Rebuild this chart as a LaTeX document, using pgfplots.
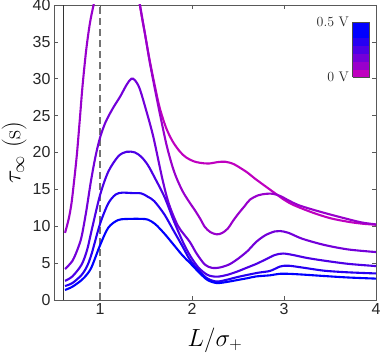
\documentclass[border=0pt]{standalone}
\usepackage{fontspec}
\newfontfamily\arialfont{Liberation Sans}
\usepackage{pgfplots}
\pgfplotsset{compat=1.18}
\definecolor{c0}{RGB}{191,0,191}
\definecolor{c1}{RGB}{153,0,204}
\definecolor{c2}{RGB}{115,0,217}
\definecolor{c3}{RGB}{77,0,230}
\definecolor{c4}{RGB}{38,0,242}
\definecolor{c5}{RGB}{0,0,255}
\begin{document}
\begin{tikzpicture}
\begin{axis}[name=ax, width=322bp, height=295bp, scale only axis,
  xmin=0.5, xmax=4, ymin=0, ymax=40,
  xtick={1,2,3,4}, ytick={0,5,...,40},
  tick align=inside, major tick length=4bp,
  axis line style={black!65, line width=0.6bp},
  tick style={black!65, line width=0.6bp},
  ticklabel style={font=\fontsize{16}{18}\selectfont\arialfont, text=black!85},
  /pgf/number format/assume math mode=true,
  xlabel={$L/\sigma_+$}, ylabel={$\tau_\infty$ (s)},
  xlabel style={font=\fontsize{25}{28}\selectfont, at={(axis description cs:0.5,-0.1356)}, anchor=center},
  ylabel style={font=\fontsize{25}{28}\selectfont, at={(axis description cs:-0.124,0.5)}, anchor=center},
  colormap={vc}{rgb255=(191,0,191) rgb255=(153,0,204) rgb255=(115,0,217) rgb255=(77,0,230) rgb255=(38,0,242) rgb255=(0,0,255) rgb255=(0,0,255)},
  colormap access=piecewise constant,
  point meta min=0, point meta max=0.5,
  colorbar,
  colorbar style={at={(parent axis.north east)}, anchor=north east, xshift=-15bp, yshift=-17bp,
    width=17bp, height=55bp, scale only axis, ytick={0,0.5}, yticklabels={0 V,0.5 V},
    yticklabel pos=left, major tick length=0pt,
    yticklabel style={font=\fontsize{14}{16}\selectfont, text=black!85},
    axis line style={black!70, line width=0.6bp}},
  every axis plot/.append style={line width=2.1bp, smooth},
]
\addplot[black!80, line width=0.9bp, sharp plot] coordinates {(0.6,0) (0.6,40)};
\addplot[black!55, line width=1.2bp, dash pattern=on 7bp off 4bp, sharp plot] coordinates {(1,0) (1,40)};
% 0 V
\addplot[c0] coordinates {
(0.62,48)(0.8,58)(1.0,64)(1.2,62)(1.33,50)(1.43,40.3)(1.49,36)(1.54,32.5)(1.6,28.8)(1.65,26.0)
(1.72,23.3)(1.79,21.5)(1.87,20.1)(1.94,19.3)(2.02,18.8)(2.09,18.6)(2.18,18.5)(2.28,18.7)(2.36,18.75)
(2.44,18.5)(2.5,18.1)(2.6,17.3)(2.68,16.5)(2.8,15.4)(2.9,14.5)(3.0,13.6)(3.1,12.9)(3.3,11.9)
(3.5,11.1)(3.7,10.6)(3.85,10.35)(4.0,10.2)};
% 0.1 V
\addplot[c1] coordinates {
(0.62,9.1)(0.66,11.0)(0.69,13.1)(0.72,16.3)(0.75,19.9)(0.78,24.4)(0.81,29.0)(0.85,33.9)(0.89,37.5)
(0.93,40)(1.0,44)(1.1,47)(1.2,48)(1.3,46.5)(1.38,43.5)(1.43,40.3)(1.49,36)(1.54,32.3)(1.6,28.4)
(1.65,25.3)(1.72,21.2)(1.78,18.4)(1.83,16.6)(1.9,14.7)(1.975,13.2)(2.03,12.2)(2.09,11.0)(2.14,9.9)
(2.2,9.2)(2.27,8.9)(2.33,9.1)(2.39,9.7)(2.45,10.8)(2.51,11.8)(2.57,12.7)(2.63,13.6)(2.72,14.2)
(2.81,14.4)(2.88,14.4)(2.96,14.1)(3.05,13.5)(3.15,12.9)(3.3,12.3)(3.5,11.6)(3.7,10.95)(3.85,10.5)(4.0,10.25)};
% 0.2 V
\addplot[c2] coordinates {
(0.62,4.2)(0.7,5.3)(0.76,7.0)(0.8,8.6)(0.85,12.0)(0.9,16.0)(0.95,19.4)(1.0,22.0)(1.06,24.1)
(1.14,26.0)(1.22,27.6)(1.29,29.2)(1.34,30.0)(1.38,29.8)(1.43,28.7)(1.5,25.8)(1.58,22.1)(1.68,16.3)
(1.75,13.0)(1.85,10.0)(1.975,7.9)(2.05,6.3)(2.14,4.8)(2.22,4.35)(2.3,4.4)(2.4,4.8)(2.49,5.5)
(2.6,6.6)(2.7,7.9)(2.8,8.8)(2.9,9.3)(2.96,9.35)(3.05,9.1)(3.2,8.3)(3.44,7.46)(3.7,6.85)(4.0,6.5)};
% 0.3 V
\addplot[c3] coordinates {
(0.62,2.6)(0.7,3.2)(0.8,4.8)(0.86,6.8)(0.91,9.5)(1.0,14.2)(1.09,17.4)(1.2,19.5)(1.29,20.1)
(1.38,20.0)(1.45,19.4)(1.52,18.3)(1.59,16.7)(1.70,14.0)(1.8,10.8)(1.9,7.9)(1.98,6.0)(2.07,4.4)
(2.17,3.4)(2.27,3.16)(2.38,3.4)(2.49,3.85)(2.6,4.4)(2.7,4.9)(2.8,5.5)(2.9,6.1)(2.99,6.3)(3.1,6.1)
(3.25,5.7)(3.44,5.33)(3.7,4.9)(4.0,4.6)};
% 0.4 V
\addplot[c4] coordinates {
(0.62,1.9)(0.7,2.3)(0.8,3.4)(0.86,4.6)(0.91,6.3)(1.0,10.3)(1.09,13.1)(1.17,14.3)(1.24,14.55)
(1.35,14.5)(1.45,14.45)(1.52,14.0)(1.59,13.4)(1.70,11.6)(1.8,9.4)(1.9,7.2)(1.98,5.4)(2.08,3.9)
(2.17,2.9)(2.27,2.5)(2.38,2.75)(2.49,3.1)(2.6,3.4)(2.72,3.7)(2.85,3.95)(2.96,4.55)(3.05,4.65)
(3.2,4.4)(3.44,3.97)(3.7,3.75)(4.0,3.6)};
% 0.5 V
\addplot[c5] coordinates {
(0.62,1.36)(0.7,1.8)(0.8,2.7)(0.86,3.5)(0.91,4.5)(1.0,7.4)(1.09,9.8)(1.2,10.85)(1.34,11.0)
(1.45,11.0)(1.52,10.9)(1.6,10.3)(1.70,9.0)(1.8,7.5)(1.9,6.0)(1.98,5.0)(2.08,3.7)(2.17,2.7)
(2.27,2.3)(2.38,2.45)(2.49,2.7)(2.6,2.95)(2.7,3.2)(2.85,3.35)(2.95,3.55)(3.05,3.55)(3.2,3.45)
(3.44,3.25)(3.7,3.05)(4.0,2.9)};
\end{axis}
\pgfresetboundingbox
\path[use as bounding box] ([xshift=-54bp,yshift=-53bp]ax.south west) rectangle ([xshift=5bp,yshift=5bp]ax.north east);
\end{tikzpicture}
\end{document}
